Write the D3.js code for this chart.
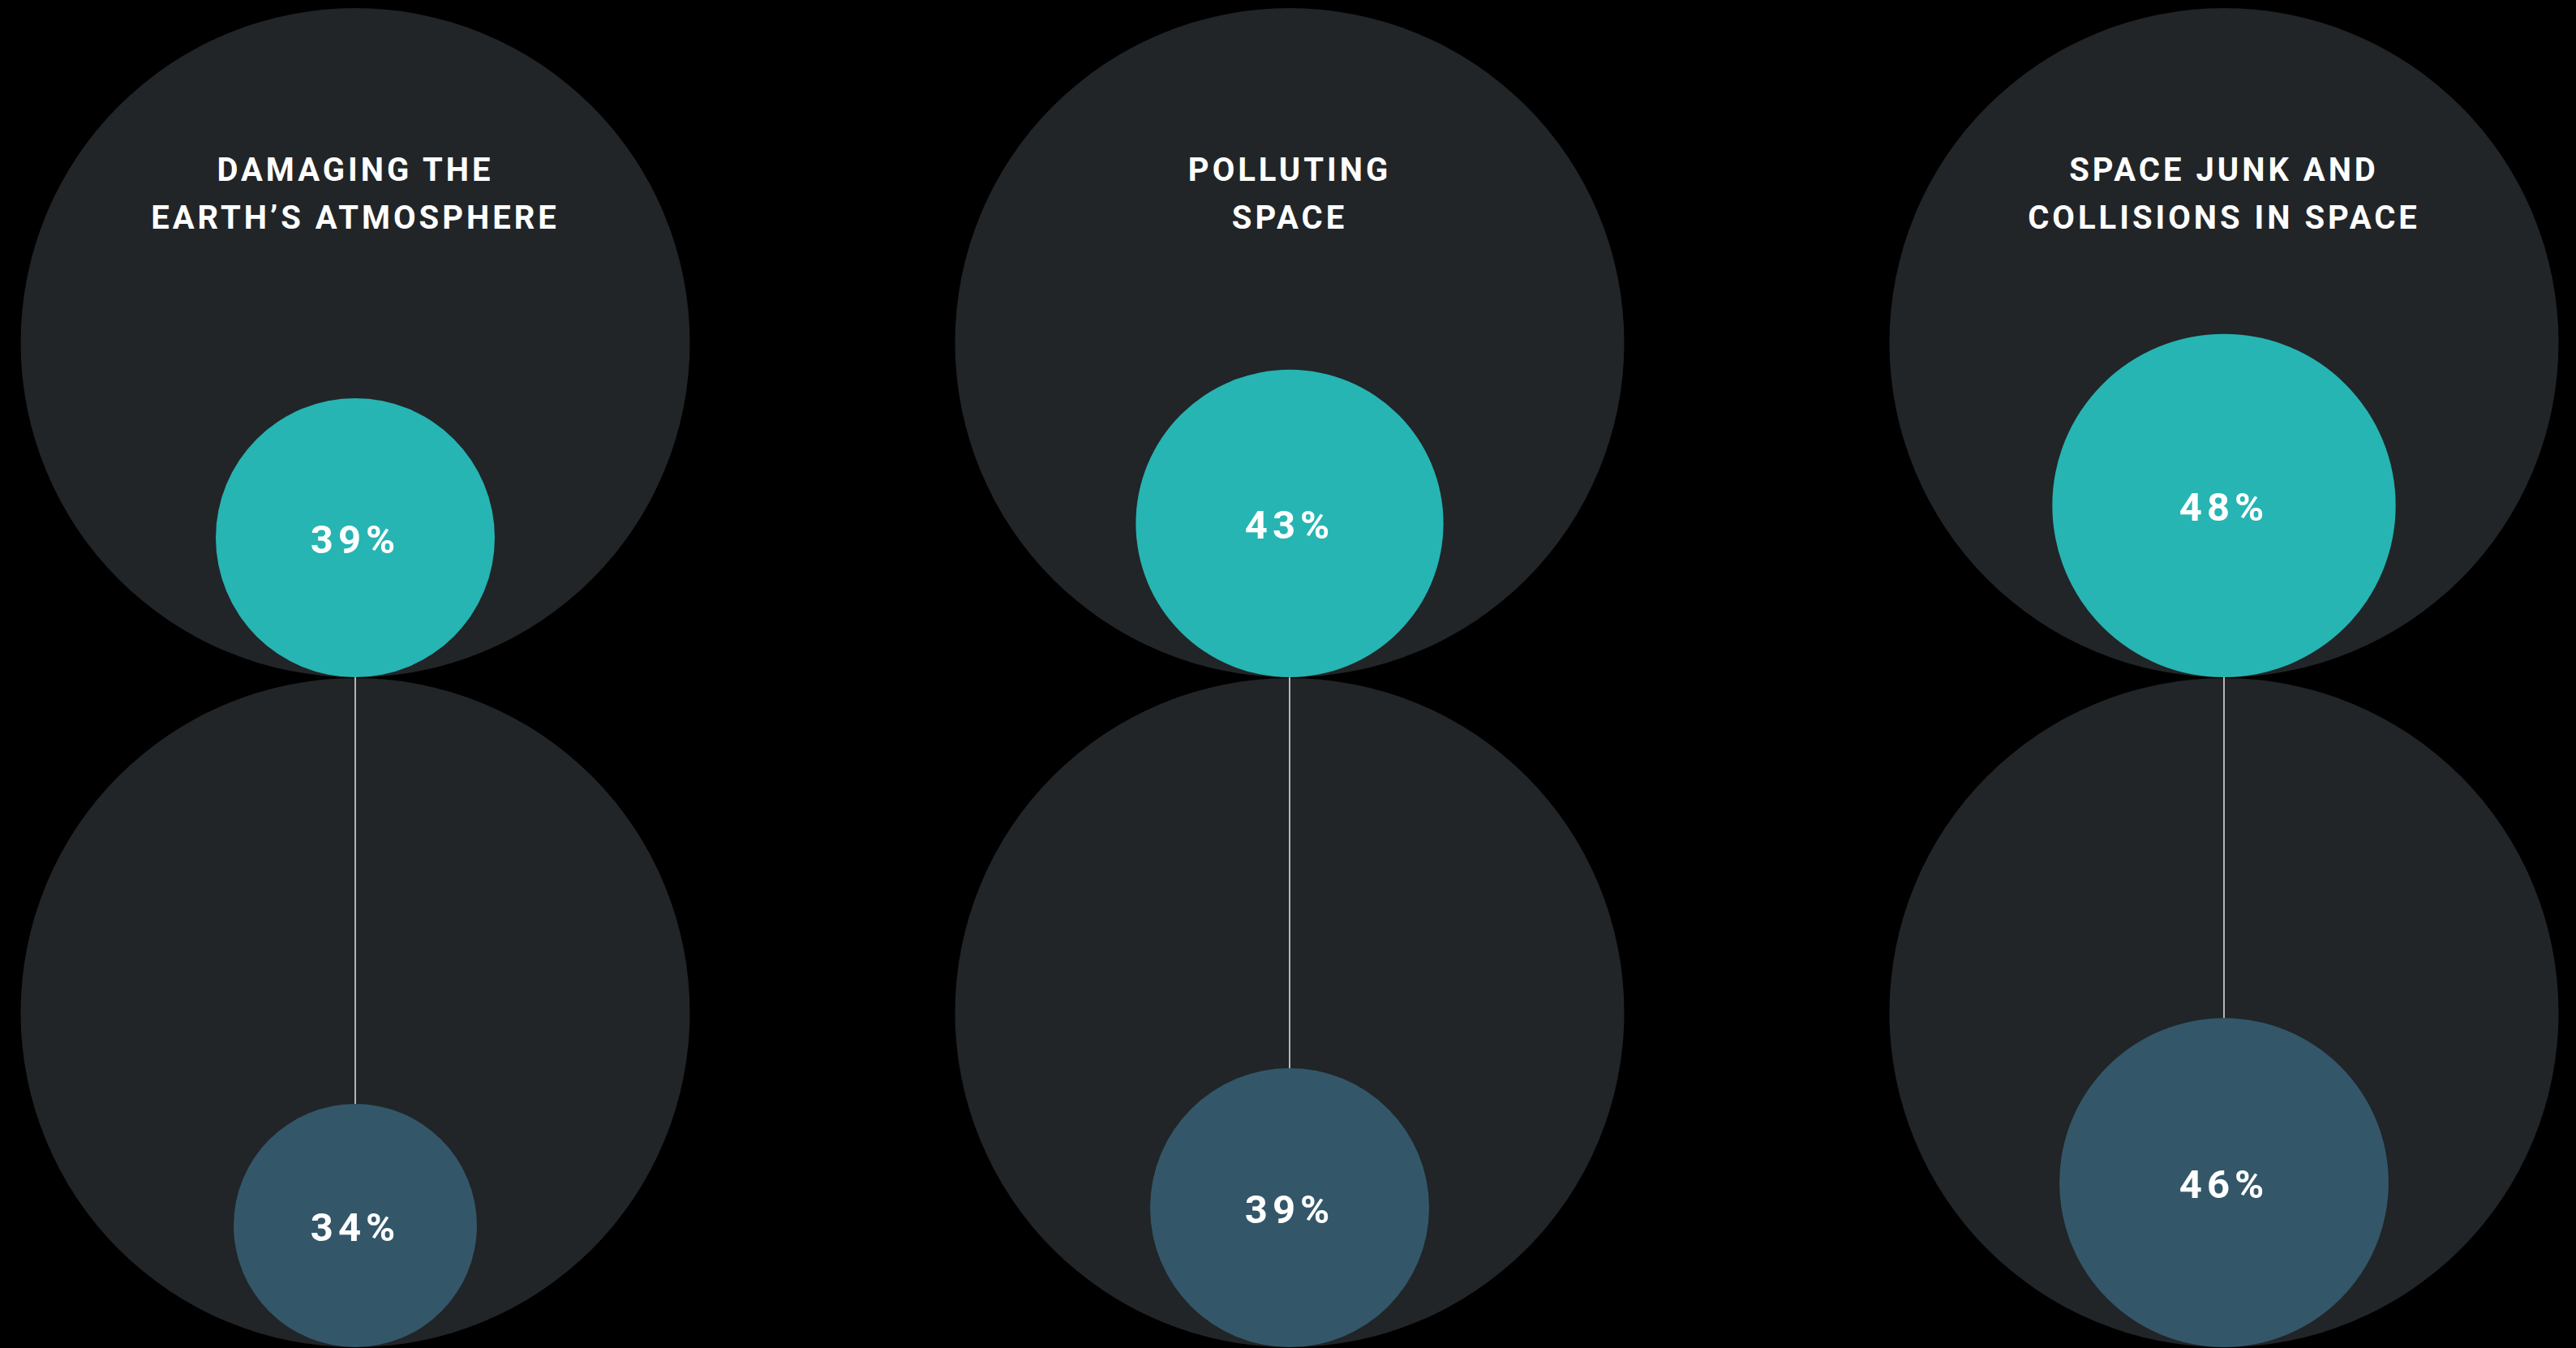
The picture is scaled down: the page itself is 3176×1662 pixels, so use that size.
<!DOCTYPE html>
<html>
<head>
<meta charset="utf-8">
<script src="https://cdn.jsdelivr.net/npm/d3@7"></script>
<style>
  html, body { margin: 0; padding: 0; background: #000; }
  svg { display: block; }
</style>
</head>
<body>
<div id="chart"></div>
<script>
// categories, two title lines each
const categories = ["atmosphere", "polluting", "junk"];
const titleLine1 = ["DAMAGING THE", "POLLUTING", "SPACE JUNK AND"];
const titleLine2 = ["EARTH\u2019S ATMOSPHERE", "SPACE", "COLLISIONS IN SPACE"];
// top (teal) and bottom (blue) percentages
const topValues = [39, 43, 48];
const bottomValues = [34, 39, 46];

const width = 3176, height = 1662;
const bigR = 412.5;
const topCy = 422.5, bottomCy = 1248.5;

const svg = d3.select("#chart")
  .append("svg")
  .attr("width", width)
  .attr("height", height);

svg.append("rect")
  .attr("width", width)
  .attr("height", height)
  .attr("fill", "#000");

// x position of each column
const x = d3.scalePoint()
  .domain(categories)
  .range([438, 2742]);

// circle radius from percentage
const r = d3.scaleLinear()
  .domain([0, 100])
  .range([0, 441]);

const data = categories.map((c, i) => ({
  key: c, t1: titleLine1[i], t2: titleLine2[i], top: topValues[i], bottom: bottomValues[i]
}));

const col = svg.selectAll("g.col")
  .data(data)
  .enter()
  .append("g")
  .attr("class", "col")
  .attr("transform", d => `translate(${x(d.key)},0)`);

// big background circles
col.append("circle")
  .attr("cy", topCy)
  .attr("r", bigR)
  .attr("fill", "#212528");
col.append("circle")
  .attr("cy", bottomCy)
  .attr("r", bigR)
  .attr("fill", "#212528");

// connector line
col.append("line")
  .attr("x1", 0).attr("x2", 0)
  .attr("y1", topCy + bigR)
  .attr("y2", d => bottomCy + bigR - 2 * r(d.bottom))
  .attr("stroke", "#e6e6e6")
  .attr("stroke-width", 1.5);

// value circles sit on the bottom of their big circle
col.append("circle")
  .attr("cy", d => topCy + bigR - r(d.top))
  .attr("r", d => r(d.top))
  .attr("fill", "#26b5b3");
col.append("circle")
  .attr("cy", d => bottomCy + bigR - r(d.bottom))
  .attr("r", d => r(d.bottom))
  .attr("fill", "#335769");

const txt = (sel) => sel
  .attr("text-anchor", "middle")
  .attr("fill", "#fff")
  .style("font-family", "Roboto, 'DejaVu Sans', sans-serif")
  .style("font-weight", 700);

txt(col.append("text"))
  .attr("y", 223)
  .style("font-size", "40px")
  .style("letter-spacing", "4px")
  .text(d => d.t1);
txt(col.append("text"))
  .attr("y", 282)
  .style("font-size", "40px")
  .style("letter-spacing", "4px")
  .text(d => d.t2);

txt(col.append("text"))
  .attr("y", d => topCy + bigR - r(d.top) + 19)
  .style("font-size", "49px")
  .style("letter-spacing", "6px")
  .text(d => d.top + "%");
txt(col.append("text"))
  .attr("y", d => bottomCy + bigR - r(d.bottom) + 19)
  .style("font-size", "49px")
  .style("letter-spacing", "6px")
  .text(d => d.bottom + "%");
</script>
</body>
</html>
